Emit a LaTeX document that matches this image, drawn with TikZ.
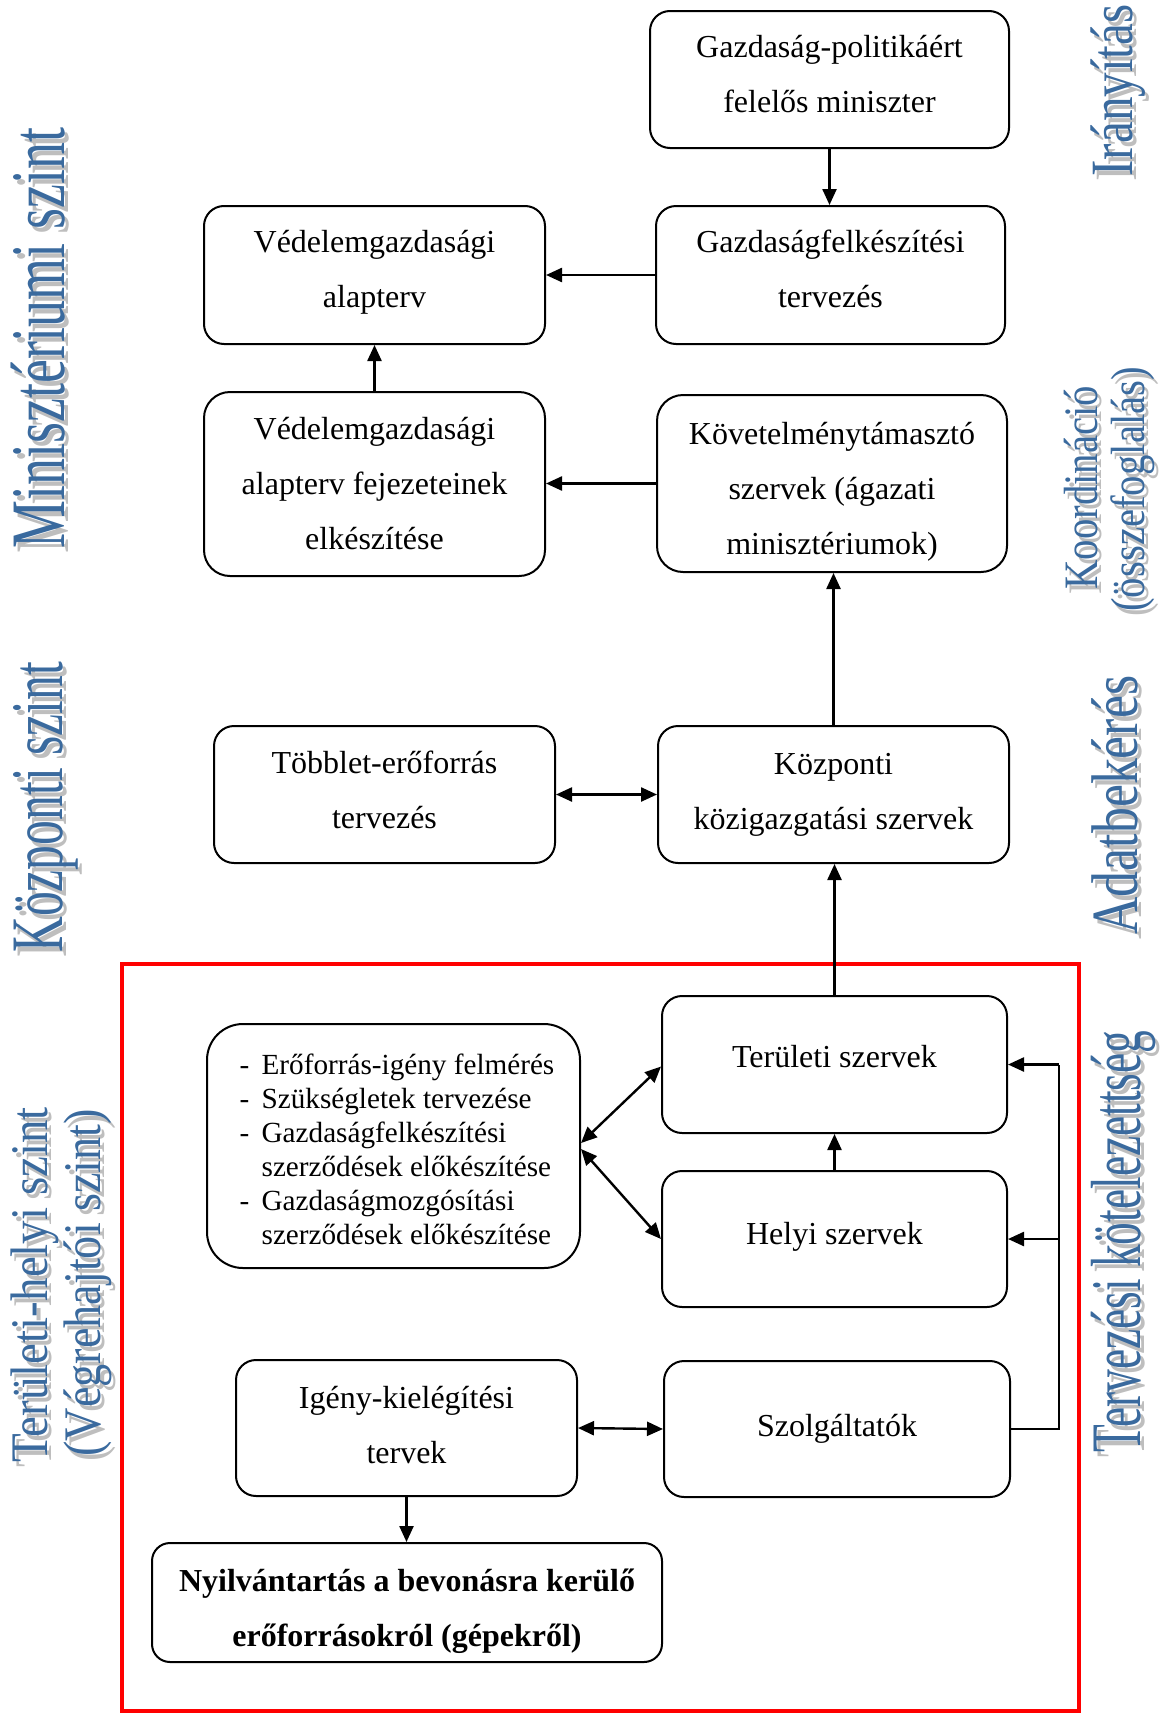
\documentclass[tikz,border=0pt]{standalone}
\usepackage{graphicx}
\usepackage{fontspec}
\setmainfont{Liberation Serif}
\usetikzlibrary{arrows.meta}
\definecolor{wablue}{RGB}{58,106,158}
\definecolor{wagray}{RGB}{190,190,190}

% rotated WordArt-style caption with a grey drop shadow
% #1 name, #2 x, #3 y (start of baseline), #4 font size, #5 horizontal squeeze, #6 text
\newcommand\walabel[6]{%
  \node[wash] (#1s) at (#2+4,#3+5) {\fontsize{#4}{#4}\selectfont\scalebox{#5}[1]{#6}};
  \node[wa] (#1) at (#2,#3) {\fontsize{#4}{#4}\selectfont\scalebox{#5}[1]{#6}};}

\begin{document}
\begin{tikzpicture}[x=0.5pt,y=-0.5pt,
  box/.style={draw, line width=1pt, rounded corners=#1, align=center, inner sep=0pt,
              font=\fontsize{16}{27.5}\selectfont},
  box/.default=10pt,
  arr/.style={line width=1.2pt, -{Triangle[length=8pt,width=7pt]}},
  darr/.style={line width=1.2pt, {Triangle[length=8pt,width=7pt]}-{Triangle[length=8pt,width=7pt]}},
  link/.style={line width=1.2pt},
  wa/.style={rotate=90, anchor=base west, inner sep=0pt, text=wablue},
  wash/.style={rotate=90, anchor=base west, inner sep=0pt, text=wagray},
]
\useasboundingbox (0,0) rectangle (1163,1713);

% territorial / local level frame
\draw[red, line width=2pt] (122,964) rectangle (1079,1711);

% ministry level
\node[box, minimum width=179.5pt, minimum height=68.5pt, text depth=6pt] (min) at (829.5,79.5)
  {Gazdaság-politikáért\\felelős miniszter};
\node[box, minimum width=174.5pt, minimum height=69pt, text depth=6.3pt] (gft) at (830.5,275)
  {Gazdaságfelkészítési\\tervezés};
\node[box, minimum width=170.5pt, minimum height=69pt, text depth=6.3pt] (va) at (374.5,275)
  {Védelemgazdasági\\alapterv};
\node[box=13pt, minimum width=170.5pt, minimum height=92pt] (vaf) at (374.5,484)
  {Védelemgazdasági\\alapterv fejezeteinek\\elkészítése};
\node[box=13pt, minimum width=175pt, minimum height=88.5pt, text height=70.5pt, text depth=0pt] (kov) at (832,483.5)
  {Követelménytámasztó\\szervek (ágazati\\minisztériumok)};

% central level
\node[box, minimum width=170.5pt, minimum height=68.5pt, text depth=5.2pt] (tob) at (384.5,794.5)
  {Többlet-erőforrás\\tervezés};
\node[box, minimum width=175.5pt, minimum height=68.5pt] (kk) at (833.5,794.5)
  {Központi\\közigazgatási szervek};

% territorial / local level
\node[box=18pt, minimum width=186.5pt, minimum height=122pt, align=left, text height=98.5pt, text depth=0pt,
      font=\fontsize{14.6}{17}\selectfont] (lst) at (393.5,1146)
  {\hspace*{3.5pt}\makebox[11pt][l]{-}Erőforrás-igény felmérés\\
   \hspace*{3.5pt}\makebox[11pt][l]{-}Szükségletek tervezése\\
   \hspace*{3.5pt}\makebox[11pt][l]{-}Gazdaságfelkészítési\\
   \hspace*{14.5pt}szerződések előkészítése\\
   \hspace*{3.5pt}\makebox[11pt][l]{-}Gazdaságmozgósítási\\
   \hspace*{14.5pt}szerződések előkészítése};
\node[box, minimum width=172.5pt, minimum height=68.5pt, text depth=8.3pt] (ter) at (834.5,1064.5)
  {Területi szervek};
\node[box, minimum width=172.5pt, minimum height=68pt, text depth=6.1pt] (hel) at (834.5,1239)
  {Helyi szervek};
\node[box, minimum width=170.5pt, minimum height=68pt, text depth=3.3pt] (ig) at (406.5,1428)
  {Igény-kielégítési\\tervek};
\node[box, minimum width=173pt, minimum height=68pt] (szo) at (837,1429)
  {Szolgáltatók};
\node[box=9pt, minimum width=255pt, minimum height=59.5pt, text height=44.2pt, text depth=0pt,
      font=\fontsize{16}{27.5}\selectfont\bfseries] (nyi) at (407,1602.5)
  {Nyilvántartás a bevonásra kerülő\\erőforrásokról (gépekről)};

% connectors
\draw[arr] (min.south) -- (min.south |- gft.north);
\draw[arr] (gft.west) -- (va.east);
\draw[arr] (vaf.north) -- (va.south);
\draw[arr] (kov.west) -- (kov.west -| vaf.east);
\draw[arr] (kk.north) -- (kk.north |- kov.south);
\draw[darr] (tob.east) -- (kk.west);
\draw[arr] (ter.north) -- (ter.north |- kk.south);
\draw[arr] (hel.north) -- (hel.north |- ter.south);
\draw[darr] ([yshift=1.5pt]lst.east) -- ([yshift=-1pt]ter.west);
\draw[darr] ([yshift=-1.5pt]lst.east) -- (hel.west);
\draw[darr] (ig.east) -- (szo.west);
\coordinate (rail) at (1059,1429);
\draw[link] (szo.east) -- (rail) -- (rail |- ter.east);
\draw[arr] (rail |- ter.east) -- (ter.east);
\draw[arr] (rail |- hel.east) -- (hel.east);
\draw[arr] (ig.south) -- (ig.south |- nyi.north);

% level captions (left) and activity captions (right)
\walabel{labmin}{64}{549}{38.5}{0.70}{Minisztériumi szint}
\walabel{labkoz}{62}{953}{37}{0.67}{Központi szint}
\walabel{labter}{47}{1463}{26.4}{0.89}{Területi-helyi szint}
\walabel{labveg}{100}{1457}{26.4}{0.875}{(Végrehajtói szint)}
\walabel{labira}{1132}{177}{30}{0.82}{Irányítás}
\walabel{labkoo}{1097}{590}{24}{0.85}{Koordináció}
\walabel{labossz}{1144}{612}{24}{0.85}{(összefoglalás)}
\walabel{labadat}{1137}{935}{33}{0.785}{Adatbekérés}
\walabel{labterv}{1140}{1453}{35.5}{0.64}{Tervezési kötelezettség}
\end{tikzpicture}
\end{document}
